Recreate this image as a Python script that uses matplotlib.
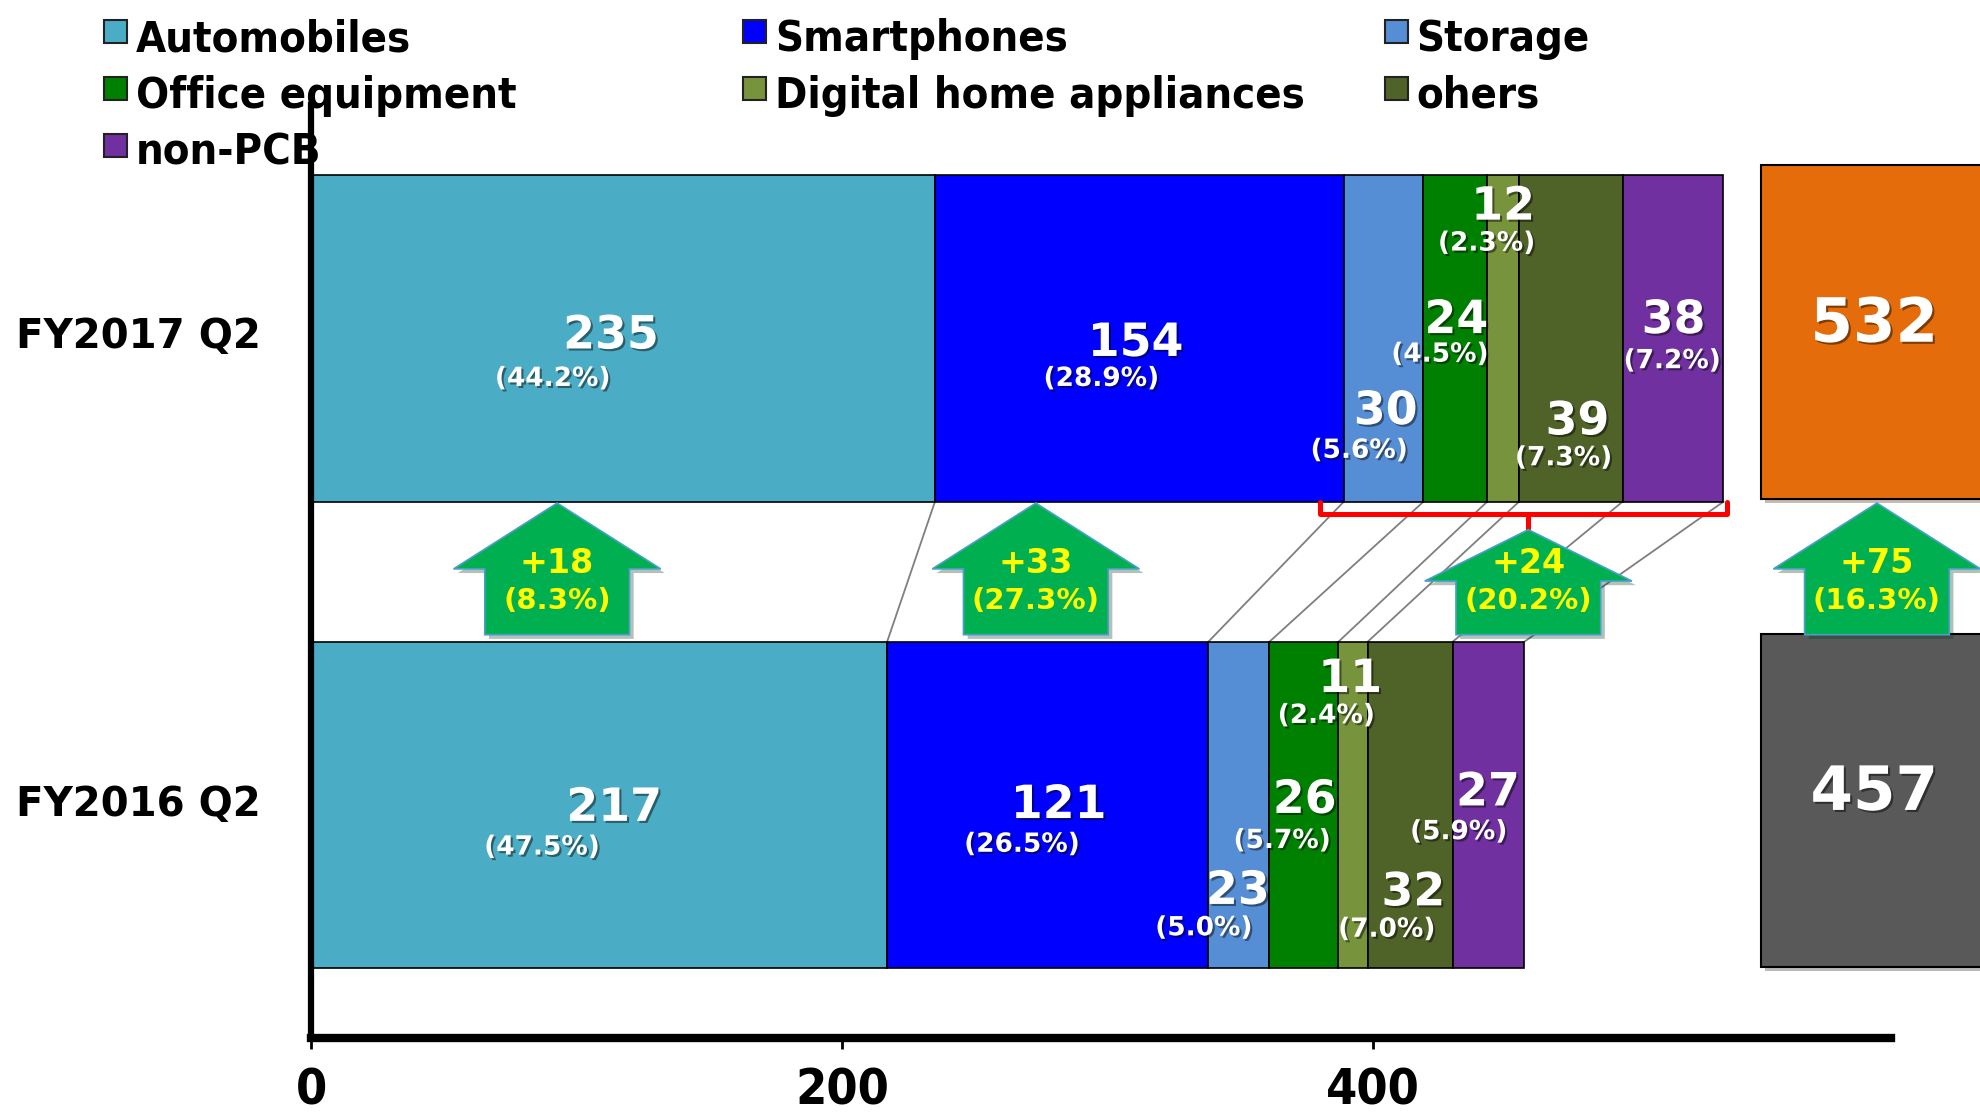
import matplotlib
matplotlib.use("Agg")
import matplotlib.pyplot as plt
import matplotlib.patheffects as pe
from matplotlib import font_manager as fm
from matplotlib.patches import Polygon, Rectangle
from matplotlib.textpath import TextPath
import numpy as np

# ---- data ----
categories = ['Automobiles', 'Smartphones', 'Storage', 'Office equipment',
              'Digital home appliances', 'ohers', 'non-PCB']
colors = ['#4BACC6', '#0000FF', '#558ED5', '#008000', '#77933C', '#4F6228', '#7030A0']
periods = ['FY2016 Q2', 'FY2017 Q2']
fy16_vals = [217, 121, 23, 26, 11, 32, 27]
fy17_vals = [235, 154, 30, 24, 12, 39, 38]
fy16_pct = ['47.5', '26.5', '5.0', '5.7', '2.4', '7.0', '5.9']
fy17_pct = ['44.2', '28.9', '5.6', '4.5', '2.3', '7.3', '7.2']
totals = [457, 532]
total_colors = ['#595959', '#E46C0A']
growth = ['+18', '+33', '+24', '+75']
growth_pct = ['8.3', '27.3', '20.2', '16.3']
xticks = [0, 200, 400]

# label placement (x, y) in data units
fy17_val_pos = [(113, 1.005), (310.6, 0.989), (404.8, 0.843), (431.4, 1.038),
                (449, 1.281), (477, 0.821), (513.2, 1.038)]
fy17_pct_pos = [(91, 0.913), (297.7, 0.913), (394.8, 0.759), (425.2, 0.965),
                (442.8, 1.203), (471.8, 0.743), (512.7, 0.951)]
fy16_val_pos = [(114.2, -0.007), (281.6, -0.001), (349.1, -0.185), (374.3, 0.01),
                (391.4, 0.269), (415.2, -0.188), (443.3, 0.026)]
fy16_pct_pos = [(87, -0.091), (267.8, -0.085), (336.3, -0.264), (365.8, -0.077),
                (382.4, 0.191), (405.2, -0.267), (432.3, -0.058)]
arrow_x = [92.7, 273, 458.5, 589.8]

# a narrow bold face for legend / tick labels, if one is installed
narrow_file = None
for key in ['LiberationSansNarrow-Bold', 'DejaVuSansCondensed-Bold', 'RobotoCondensed-Bold',
            'OpenSansCondensed-Bold', 'NotoSans-CondensedBold']:
    for f in fm.fontManager.ttflist:
        if key.lower() in f.fname.lower().replace(' ', ''):
            narrow_file = f.fname
            break
    if narrow_file:
        break
if narrow_file:
    narrow = fm.FontProperties(fname=narrow_file)
else:
    narrow = fm.FontProperties(family='DejaVu Sans', weight='bold')


def fit_size(text, target_px, max_size):
    w = TextPath((0, 0), text, size=10, prop=narrow).get_extents().width * 100 / 72
    return min(max_size, 10 * target_px / w)


plt.rcParams['font.family'] = ['DejaVu Sans']

fig = plt.figure(figsize=(19.81, 11.14), dpi=100)
ax = fig.add_axes([311 / 1981, 0.0678, 1 - 311 / 1981, 0.838])
ax.patch.set_visible(False)
ax.set_xlim(0, 629)
ax.set_ylim(-0.5, 1.5)

shadow = [pe.SimplePatchShadow(offset=(1.5, -1.5), shadow_rgbFace='black', alpha=0.45), pe.Normal()]

# stacked bars
bh = 0.7
for yv, vals in [(0, fy16_vals), (1, fy17_vals)]:
    left = 0
    for v, c in zip(vals, colors):
        ax.barh(yv, v, left=left, height=bh, color=c, edgecolor='black', linewidth=1.2, zorder=2)
        left += v

# connector lines between segment boundaries
b16 = np.cumsum(fy16_vals)
b17 = np.cumsum(fy17_vals)
for a, b in zip(b17, b16):
    ax.plot([a, b], [1 - bh / 2, bh / 2], color='#7F7F7F', lw=1.3, zorder=1.5)

# totals
for yv, t, c in zip([0.01, 1.013], totals, total_colors):
    ax.barh(yv, 90, left=546, height=0.715, color=c, edgecolor='black', linewidth=1.5, zorder=2,
            path_effects=[pe.SimplePatchShadow(offset=(3, -3), alpha=0.3), pe.Normal()])
    ax.text(588.8, yv + 0.015, str(t), color='white', fontsize=44, fontweight='bold',
            ha='center', va='center', zorder=6, path_effects=shadow)

# value labels
for vals, pcts, vpos, ppos in [(fy17_vals, fy17_pct, fy17_val_pos, fy17_pct_pos),
                               (fy16_vals, fy16_pct, fy16_val_pos, fy16_pct_pos)]:
    for v, p, (vx, vy), (px, py) in zip(vals, pcts, vpos, ppos):
        ax.text(vx, vy, str(v), color='white', fontsize=33, fontweight='bold',
                ha='center', va='center', zorder=6, path_effects=shadow)
        ax.text(px, py, '(' + p + '%)', color='white', fontsize=19, fontweight='bold',
                ha='center', va='center', zorder=6, path_effects=shadow)

# red bracket
ax.plot([380, 380, 533.2, 533.2], [0.65, 0.624, 0.624, 0.65], color='#FF0000', lw=3.6,
        solid_joinstyle='round', solid_capstyle='round', zorder=3)
ax.plot([458.5, 458.5], [0.624, 0.587], color='#FF0000', lw=3.6, solid_capstyle='round', zorder=3)

# growth arrows
aw, sw = 78, 54.5
for i, (cx, g, gp) in enumerate(zip(arrow_x, growth, growth_pct)):
    bottom = 0.365
    if i == 2:
        tip, wing = 0.590, 0.480
    else:
        tip, wing = 0.647, 0.506
    pts = [(cx - sw / 2, bottom), (cx - sw / 2, wing), (cx - aw / 2, wing), (cx, tip),
           (cx + aw / 2, wing), (cx + sw / 2, wing), (cx + sw / 2, bottom)]
    ax.add_patch(Polygon(pts, closed=True, facecolor='#00B050', edgecolor='#4A9FC8', lw=1.2, zorder=4,
                         path_effects=[pe.SimplePatchShadow(offset=(3, -3), alpha=0.3), pe.Normal()]))
    ax.text(cx, 0.518, g, color='#FFFF00', fontsize=24, fontweight='bold', ha='center', va='center', zorder=5)
    ax.text(cx, 0.437, '(' + gp + '%)', color='#FFFF00', fontsize=21, fontweight='bold',
            ha='center', va='center', zorder=5)

# axes styling
for s in ['top', 'right']:
    ax.spines[s].set_visible(False)
ax.spines['left'].set_linewidth(4.5)
ax.spines['bottom'].set_linewidth(6)
ax.spines['bottom'].set_bounds(0, 595)
ax.set_xticks(xticks)
ax.set_xticklabels([str(t) for t in xticks], fontproperties=narrow, fontsize=fit_size('200', 100, 36))
ax.tick_params(axis='x', direction='out', length=8, width=2, pad=12)
ax.set_yticks([0.01, 1.013])
ax.set_yticklabels(periods, fontsize=29, fontweight='bold')
ax.tick_params(axis='y', length=0, pad=36)

# legend (row-major)
leg_size = fit_size('Digital home appliances', 525, 36)
col_x = [103.6, 742.9, 1384.7]
for i, (name, c) in enumerate(zip(categories, colors)):
    r, k = divmod(i, 3)
    base = 51 + r * 56.9
    fig.patches.append(Rectangle((col_x[k] / 1981, 1 - (base - 8) / 1114), 23 / 1981, 23 / 1114,
                                 transform=fig.transFigure, facecolor=c, edgecolor='#222222', lw=1.5,
                                 zorder=-1))
    fig.text((col_x[k] + 32) / 1981, 1 - base / 1114, name, fontproperties=narrow, fontsize=leg_size,
             ha='left', va='baseline', zorder=-1)

fig.savefig('out.png', dpi=100)
